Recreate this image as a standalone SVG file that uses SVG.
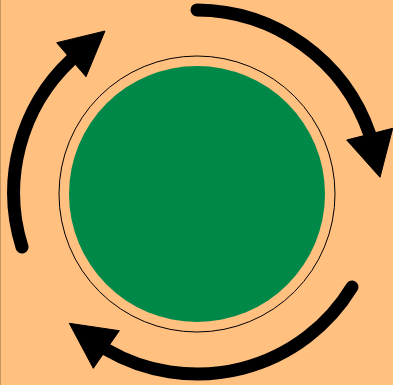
<svg xmlns="http://www.w3.org/2000/svg" width="393" height="385" viewBox="0 0 393 385">
  <style>
    .arc { fill: none; stroke: #000; stroke-width: 13; stroke-linecap: round; }
    .head { fill: #000; stroke: #000; stroke-width: 1; stroke-linejoin: miter; }
  </style>
  <rect x="0" y="0" width="393" height="385" fill="#FFC080"/>
  <line x1="0.5" y1="0" x2="0.5" y2="385" stroke="#C8945C" stroke-width="1"/>
  <g id="ring">
    <circle cx="197" cy="194" r="138" fill="none" stroke="#000" stroke-width="1"/>
  </g>
  <g id="core">
    <circle cx="197" cy="194" r="128" fill="#008849"/>
  </g>
  <g id="connectors">
    <path class="arc" d="M197,10 A184,184 0 0 1 369.7,134.2"/>
    <polygon class="head" points="346.7,140 380,177.3 392.7,128.3"/>
    <path class="arc" d="M352,287 A181,181 0 0 1 106.3,349.5"/>
    <polygon class="head" points="119.3,330.7 69.3,323.3 93.3,368.3"/>
    <path class="arc" d="M22,247 A182,182 0 0 1 71.3,59.7"/>
    <polygon class="head" points="56.7,42.7 105,31 86,76.7"/>
  </g>
</svg>
